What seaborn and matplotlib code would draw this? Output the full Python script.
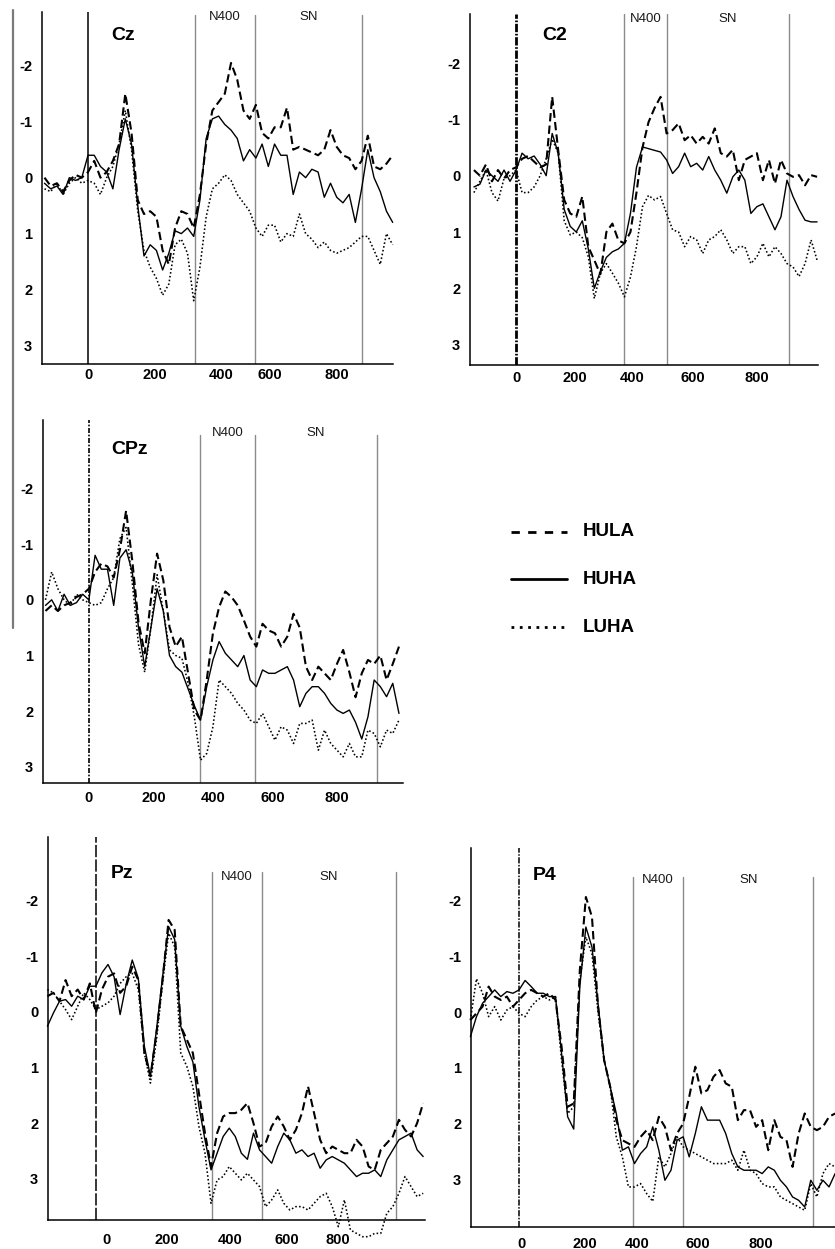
import numpy as np
import pandas as pd
import matplotlib
matplotlib.use("Agg")
import matplotlib.pyplot as plt
from matplotlib.lines import Line2D
import seaborn as sns

# ------------------------------------------------------------------ data
conditions = ["HULA", "HUHA", "LUHA"]

time_cz = np.arange(-140, 1000, 20)
hula_cz = [0.0, 0.15, 0.1, 0.25, 0.05, -0.05, 0.0, -0.1, -0.3, 0.0,
           -0.1, -0.3, -0.6, -1.5, -0.8, 0.4, 0.65, 0.6, 0.7, 1.3,
           1.55, 0.9, 0.6, 0.65, 0.9, 0.3, -0.6, -1.2, -1.35, -1.5,
           -2.05, -1.75, -1.2, -1.05, -1.3, -0.8, -0.7, -0.9, -0.9, -1.25,
           -0.5, -0.55, -0.5, -0.45, -0.4, -0.5, -0.85, -0.55, -0.4, -0.35,
           -0.15, -0.3, -0.75, -0.2, -0.15, -0.25, -0.4]
huha_cz = [0.1, 0.2, 0.15, 0.3, 0.0, 0.05, 0.0, -0.4, -0.4, -0.2,
           -0.1, 0.2, -0.5, -1.05, -0.6, 0.5, 1.4, 1.2, 1.3, 1.65,
           1.35, 0.95, 1.0, 0.9, 1.05, 0.4, -0.7, -1.05, -1.1, -0.95,
           -0.85, -0.7, -0.3, -0.5, -0.35, -0.6, -0.2, -0.6, -0.4, -0.4,
           0.3, -0.1, 0.0, -0.15, -0.1, 0.35, 0.1, 0.35, 0.45, 0.3,
           0.8, 0.2, -0.5, 0.0, 0.25, 0.6, 0.8]
luha_cz = [0.2, 0.25, 0.1, 0.3, 0.1, 0.0, 0.1, 0.05, 0.1, 0.3,
           0.0, -0.2, -0.6, -1.2, -0.5, 0.6, 1.3, 1.6, 1.8, 2.1,
           1.9, 1.2, 1.1, 1.35, 2.2, 1.6, 0.7, 0.2, 0.1, -0.05,
           0.05, 0.3, 0.45, 0.6, 0.9, 1.05, 0.85, 0.85, 1.15, 1.0,
           1.05, 0.65, 1.0, 1.1, 1.25, 1.15, 1.3, 1.35, 1.3, 1.25,
           1.15, 1.05, 1.05, 1.3, 1.55, 1.0, 1.2]

time_c2 = np.arange(-140, 1020, 20)
hula_c2 = [-0.1, 0.0, -0.2, 0.1, -0.1, 0.05, -0.1, -0.15, -0.3, -0.35,
           -0.25, -0.15, -0.2, -1.4, -0.45, 0.43, 0.67, 0.73, 0.37, 1.26,
           1.5, 1.75, 1.0, 0.85, 1.15, 1.2, 1.0, 0.3, -0.5, -0.95,
           -1.2, -1.4, -0.75, -0.81, -0.93, -0.63, -0.72, -0.57, -0.69, -0.57,
           -0.84, -0.4, -0.34, -0.46, 0.08, -0.28, -0.34, -0.4, 0.08, -0.28,
           0.14, -0.28, -0.04, 0.02, -0.01, 0.17, -0.01, 0.02]
huha_c2 = [0.2, 0.15, -0.1, 0.0, 0.1, -0.1, 0.1, -0.1, -0.4, -0.3,
           -0.35, -0.2, 0.0, -0.75, -0.4, 0.6, 0.9, 1.0, 0.8, 1.3,
           2.0, 1.7, 1.45, 1.35, 1.3, 1.2, 0.67, -0.15, -0.51, -0.48,
           -0.45, -0.42, -0.28, -0.04, -0.16, -0.4, -0.16, -0.22, -0.1, -0.34,
           -0.1, 0.08, 0.31, 0.02, -0.1, 0.08, 0.67, 0.55, 0.5, 0.73,
           0.96, 0.73, 0.08, 0.37, 0.6, 0.79, 0.82, 0.82]
luha_c2 = [0.3, 0.1, -0.1, 0.3, 0.45, 0.05, 0.0, -0.1, 0.3, 0.3,
           0.2, 0.0, -0.3, -0.65, -0.4, 0.8, 1.05, 1.0, 1.1, 1.44,
           2.18, 1.73, 1.56, 1.73, 1.91, 2.15, 1.8, 1.26, 0.55, 0.35,
           0.43, 0.37, 0.67, 0.96, 1.0, 1.26, 1.08, 1.14, 1.38, 1.14,
           1.08, 0.96, 1.14, 1.38, 1.26, 1.26, 1.56, 1.44, 1.2, 1.44,
           1.26, 1.38, 1.56, 1.62, 1.79, 1.56, 1.14, 1.5]

time_cpz = np.arange(-140, 1020, 20)
hula_cpz = [0.2, 0.1, 0.2, 0.1, 0.05, -0.05, -0.1, -0.2, -0.5, -0.65,
            -0.6, -0.4, -0.9, -1.6, -0.7, 0.4, 0.96, 0.0, -0.83, -0.35,
            0.49, 0.84, 0.66, 1.32, 1.98, 2.16, 1.44, 0.6, 0.13, -0.15,
            -0.05, 0.1, 0.37, 0.66, 0.84, 0.43, 0.55, 0.6, 0.84, 0.66,
            0.25, 0.5, 1.2, 1.44, 1.2, 1.32, 1.44, 1.15, 0.9, 1.3,
            1.75, 1.32, 1.08, 1.15, 1.0, 1.44, 1.15, 0.84]
huha_cpz = [0.1, 0.0, 0.2, -0.1, 0.1, 0.05, -0.1, 0.0, -0.8, -0.55,
            -0.55, 0.1, -0.75, -0.9, -0.5, 0.5, 1.2, 0.5, -0.2, 0.2,
            1.0, 1.2, 1.3, 1.6, 1.9, 2.16, 1.56, 1.08, 0.75, 0.96,
            1.08, 1.2, 1.0, 1.44, 1.56, 1.26, 1.32, 1.32, 1.26, 1.2,
            1.44, 1.92, 1.68, 1.56, 1.56, 1.68, 1.86, 1.98, 2.04, 1.98,
            2.2, 2.5, 2.1, 1.44, 1.56, 1.74, 1.5, 2.04]
luha_cpz = [0.0, -0.5, -0.2, 0.0, 0.1, -0.1, 0.0, 0.05, 0.1, 0.05,
            -0.2, -0.4, -1.1, -1.3, -0.3, 0.8, 1.3, 0.5, -0.45, 0.2,
            0.9, 1.0, 1.05, 1.5, 2.1, 2.88, 2.76, 2.28, 1.44, 1.56,
            1.68, 1.86, 1.98, 2.16, 2.22, 2.04, 2.28, 2.52, 2.28, 2.34,
            2.58, 2.22, 2.22, 2.16, 2.7, 2.34, 2.58, 2.7, 2.82, 2.58,
            2.82, 2.82, 2.34, 2.4, 2.64, 2.34, 2.4, 2.16]

time_pz = np.arange(-160, 1100, 20)
hula_pz = [-0.28, -0.34, -0.19, -0.57, -0.28, -0.40, -0.22, -0.51, 0.02, -0.40,
           -0.63, -0.69, -0.34, -0.46, -0.81, -0.57, 0.74, 1.16, 0.38, -0.57,
           -1.65, -1.47, 0.26, 0.50, 0.74, 1.46, 2.18, 2.78, 2.18, 1.88,
           1.82, 1.82, 1.76, 1.64, 2.0, 2.42, 2.36, 2.06, 1.88, 2.06,
           2.30, 2.12, 1.82, 1.34, 1.82, 2.30, 2.54, 2.42, 2.48, 2.54,
           2.54, 2.30, 2.42, 2.78, 2.84, 2.48, 2.36, 2.24, 1.94, 2.12,
           2.24, 2.0, 1.64]
huha_pz = [0.26, 0.02, -0.19, -0.22, -0.10, -0.28, -0.22, -0.46, -0.46, -0.7,
           -0.85, -0.63, 0.05, -0.5, -0.93, -0.6, 0.62, 1.16, 0.32, -0.63,
           -1.53, -1.3, 0.26, 0.62, 0.9, 1.70, 2.30, 2.84, 2.54, 2.24,
           2.09, 2.24, 2.54, 2.65, 2.18, 2.48, 2.6, 2.72, 2.42, 2.18,
           2.3, 2.54, 2.48, 2.6, 2.54, 2.81, 2.66, 2.6, 2.66, 2.72,
           2.84, 2.96, 2.9, 2.9, 2.84, 2.96, 2.66, 2.48, 2.3, 2.24,
           2.18, 2.48, 2.6]
luha_pz = [-0.40, -0.34, -0.19, -0.04, 0.14, -0.10, -0.34, -0.22, -0.04, -0.10,
           -0.16, -0.28, -0.51, -0.63, -0.69, -0.40, 0.74, 1.28, 0.50, -0.51,
           -1.41, -1.17, 0.74, 0.98, 1.34, 2.06, 2.54, 3.44, 3.02, 2.96,
           2.78, 2.90, 3.02, 2.90, 3.02, 3.14, 3.50, 3.38, 3.20, 3.44,
           3.56, 3.50, 3.50, 3.56, 3.44, 3.32, 3.26, 3.50, 3.86, 3.38,
           3.92, 3.98, 4.04, 4.04, 3.98, 3.98, 3.62, 3.50, 3.26, 2.96,
           3.14, 3.32, 3.26]

time_p4 = np.arange(-160, 1060, 20)
hula_p4 = [0.14, 0.02, -0.10, -0.46, -0.28, -0.22, -0.28, -0.10, -0.22, -0.34,
           -0.40, -0.34, -0.28, -0.34, -0.22, 0.62, 1.70, 1.64, -0.75, -2.07,
           -1.71, -0.10, 0.86, 1.34, 1.94, 2.30, 2.36, 2.42, 2.24, 2.12,
           2.30, 1.88, 2.06, 2.48, 2.18, 2.00, 1.52, 0.98, 1.46, 1.40,
           1.16, 1.04, 1.28, 1.34, 1.94, 1.76, 1.76, 2.06, 1.94, 2.48,
           1.94, 2.24, 2.30, 2.78, 2.18, 1.82, 2.06, 2.12, 2.06, 1.88,
           1.82]
huha_p4 = [0.44, 0.08, -0.16, -0.28, -0.40, -0.28, -0.37, -0.34, -0.40, -0.57,
           -0.46, -0.34, -0.34, -0.28, -0.28, 0.74, 1.88, 2.10, -0.46, -1.53,
           -1.17, -0.16, 0.86, 1.34, 1.82, 2.48, 2.42, 2.72, 2.54, 2.42,
           2.06, 2.48, 3.02, 2.84, 2.30, 2.24, 2.60, 2.18, 1.70, 1.94,
           1.94, 1.94, 2.18, 2.54, 2.78, 2.84, 2.84, 2.84, 2.90, 2.78,
           2.84, 3.02, 3.14, 3.32, 3.38, 3.50, 3.02, 3.20, 3.02, 3.14,
           2.90]
luha_p4 = [0.14, -0.6, -0.34, 0.08, -0.10, 0.14, -0.04, -0.10, 0.02, 0.08,
           -0.10, -0.22, -0.28, -0.22, -0.28, 0.86, 1.82, 1.70, -0.57, -1.35,
           -1.05, 0.0, 0.86, 1.34, 2.24, 2.60, 3.14, 3.14, 3.08, 3.26,
           3.40, 2.60, 2.78, 2.54, 2.24, 2.42, 2.48, 2.54, 2.60, 2.66,
           2.72, 2.72, 2.72, 2.66, 2.84, 2.48, 2.84, 2.90, 3.08, 3.14,
           3.14, 3.32, 3.38, 3.44, 3.50, 3.56, 3.08, 3.32, 2.90, 2.72,
           2.78]

# analysis window borders (ms) per electrode
regions_cz = [344, 537, 881]
regions_c2 = [360, 500, 908]
regions_cpz = [358, 535, 928]
regions_pz = [382, 547, 990]
regions_p4 = [376, 540, 968]

window_labels = ["N400", "SN"]
xtick_labels = ["0", "200", "400", "600", "800"]
ytick_values = [-2, -1, 0, 1, 2, 3]

# where the (hand-placed) time labels sit in each panel
xtick_pos_cz = [0, 215, 428, 585, 800]
xtick_pos_c2 = [0, 196, 385, 588, 800]
xtick_pos_cpz = [0, 210, 400, 593, 800]
xtick_pos_pz = [36, 234, 442, 630, 799]
xtick_pos_p4 = [7, 217, 388, 589, 796]

# ------------------------------------------------------------------ style
sns.set_style("white")
plt.rcParams["font.family"] = ["Liberation Sans", "DejaVu Sans"]
plt.rcParams["axes.unicode_minus"] = False
plt.rcParams["text.color"] = "black"

W, H = 835, 1249
fig = plt.figure(figsize=(W / 100, H / 100), dpi=100)
fig.patch.set_facecolor("white")


def px_axes(l, t, r, b):
    return fig.add_axes([l / W, 1 - b / H, (r - l) / W, (b - t) / H])


def ftext(x, y, s, **kw):
    fig.text(x / W, 1 - y / H, s, **kw)


cond_style = {
    "HULA": dict(linestyle=(0, (4, 2)), lw=1.5),
    "HUHA": dict(linestyle="-", lw=1.0),
    "LUHA": dict(linestyle=(0, (1, 1.4)), lw=1.15),
}

panels = [
    dict(name="Cz", t=time_cz, data=[hula_cz, huha_cz, luha_cz], rect=(42, 12, 393, 364),
         xlim=(-148, 981), ylim=(3.33, -2.96), regions=regions_cz, rtop=-2.9, lab_v=-2.87,
         onset=dict(linestyle="-", lw=1.1), title_xy=(123, 35), xpad=3, xt=xtick_pos_cz),
    dict(name="C2", t=time_c2, data=[hula_c2, huha_c2, luha_c2], rect=(470, 14, 818, 365),
         xlim=(-153, 1003), ylim=(3.36, -2.87), regions=regions_c2, rtop=-2.87, lab_v=-2.78,
         onset=dict(linestyle=(0, (3, 0.6, 0.6, 0.6)), lw=2.0), title_xy=(555, 35), xpad=4,
         xt=xtick_pos_c2),
    dict(name="CPz", t=time_cpz, data=[hula_cpz, huha_cpz, luha_cpz], rect=(43, 420, 403, 783),
         xlim=(-148, 1013), ylim=(3.29, -3.23), regions=regions_cpz, rtop=-2.96, lab_v=-2.99,
         onset=dict(linestyle=(0, (3, 1, 1, 1)), lw=1.2), title_xy=(130, 449), xpad=6,
         xt=xtick_pos_cpz),
    dict(name="Pz", t=time_pz, data=[hula_pz, huha_pz, luha_pz], rect=(48, 837, 425, 1220),
         xlim=(-158, 1086), ylim=(3.74, -3.14), regions=regions_pz, rtop=-2.52, lab_v=-2.43,
         onset=dict(linestyle=(0, (8, 1.5)), lw=1.1), title_xy=(122, 873), xpad=9,
         xt=xtick_pos_pz),
    dict(name="P4", t=time_p4, data=[hula_p4, huha_p4, luha_p4], rect=(471, 848, 850, 1227),
         xlim=(-158, 1089), ylim=(3.86, -2.95), regions=regions_p4, rtop=-2.43, lab_v=-2.37,
         onset=dict(linestyle=(0, (4, 1, 1, 1)), lw=1.1), title_xy=(545, 875), xpad=7,
         xt=xtick_pos_p4),
]

for p in panels:
    ax = px_axes(*p["rect"])
    ax.set_facecolor("white")
    df = pd.DataFrame({"time": p["t"]})
    for cond, vals in zip(conditions, p["data"]):
        df[cond] = vals
    long = df.melt(id_vars="time", var_name="condition", value_name="uV")
    for cond in conditions:
        sub = long[long["condition"] == cond]
        sns.lineplot(data=sub, x="time", y="uV", ax=ax, color="black",
                     clip_on=False, legend=False, **cond_style[cond])
    ax.set_xlim(*p["xlim"])
    ax.set_ylim(*p["ylim"])
    ybot, ytop = p["ylim"]
    # stimulus onset
    ax.axvline(0, color="black", zorder=3, **p["onset"])
    # window borders
    frac = (ybot - p["rtop"]) / (ybot - ytop)
    for r in p["regions"]:
        ax.axvline(r, ymin=0, ymax=frac, color="#8a8a8a", lw=1.0, zorder=1)
    regs = p["regions"]
    for lab, (a, b) in zip(window_labels, [(regs[0], regs[1]), (regs[1], regs[2])]):
        ax.text((a + b) / 2, p["lab_v"], lab, ha="center", va="center",
                fontsize=9.5, color="#1a1a1a")
    # axes
    for s in ["top", "right"]:
        ax.spines[s].set_visible(False)
    for s in ["left", "bottom"]:
        ax.spines[s].set_color("black")
        ax.spines[s].set_linewidth(1.1)
    ax.set_xticks(p["xt"])
    ax.set_xticklabels(xtick_labels, fontweight="bold", fontsize=10.5)
    ax.set_yticks(ytick_values)
    ax.set_yticklabels([str(v) for v in ytick_values], fontweight="bold", fontsize=10.5)
    ax.tick_params(axis="x", length=0, pad=p["xpad"], labelcolor="black")
    ax.tick_params(axis="y", length=0, pad=7, labelcolor="black")
    ax.set_xlabel("")
    ax.set_ylabel("")
    ftext(p["title_xy"][0], p["title_xy"][1], p["name"], fontsize=14,
          fontweight="bold", ha="center", va="center", color="black")

# long vertical rule at the left border
fig.add_artist(Line2D([13 / W, 13 / W], [1 - 10 / H, 1 - 628 / H],
                      color="#7a7a7a", lw=1.6))

# legend
leg_styles = {
    "HULA": dict(linestyle=(0, (3, 3)), lw=2.0),
    "HUHA": dict(linestyle="-", lw=2.0),
    "LUHA": dict(linestyle=(0, (1, 2)), lw=2.0),
}
for cond, yy in zip(conditions, [532, 579, 627]):
    fig.add_artist(Line2D([511 / W, 567 / W], [1 - yy / H, 1 - yy / H],
                          color="black", **leg_styles[cond]))
    ftext(583, yy, cond, fontsize=13.5, fontweight="bold", ha="left", va="center",
          color="black")

fig.savefig("out.png", dpi=100, facecolor="white")
